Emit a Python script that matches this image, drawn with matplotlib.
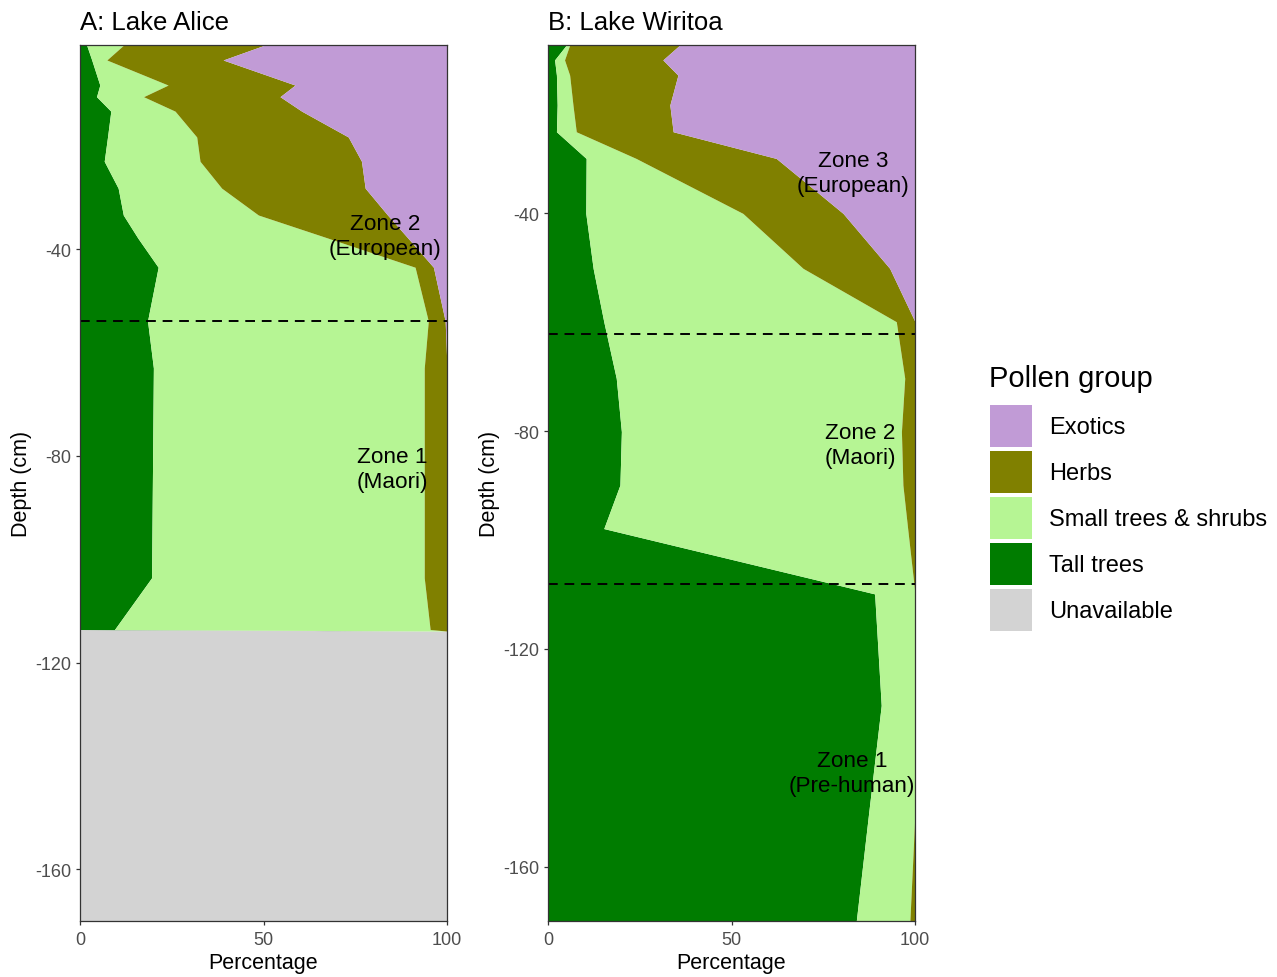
import matplotlib
matplotlib.use("Agg")
import matplotlib.pyplot as plt
from matplotlib.patches import Patch
from matplotlib.ticker import FuncFormatter
import numpy as np

plt.rcParams['font.family'] = ['Liberation Sans', 'DejaVu Sans']

# Stacking order from the left edge of each panel
stack_order = ["Unavailable", "Tall trees", "Small trees & shrubs", "Herbs", "Exotics"]
legend_order = ["Exotics", "Herbs", "Small trees & shrubs", "Tall trees", "Unavailable"]
group_colors = {
    "Exotics": "#C19BD6",
    "Herbs": "#808000",
    "Small trees & shrubs": "#B6F594",
    "Tall trees": "#007C00",
    "Unavailable": "#D3D3D3",
}

# Lake Alice core (depth in cm, percentage of pollen sum)
alice_depth = [-0.5, -3.4, -8.25, -10.5, -13.3, -18.3, -23.0, -28.2, -33.4, -37.9,
               -43.5, -53.9, -63.0, -103.6, -113.6, -113.9, -170.0]
alice_tall = [1.8, 3.2, 5.4, 4.5, 8.4, 7.5, 6.6, 10.4, 11.8, 15.8,
              21.3, 18.4, 20.0, 19.5, 9.4, 0, 0]
alice_small = [10.1, 4.1, 18.6, 12.8, 17.5, 24.3, 26.1, 28.2, 36.8, 51.9,
               70.0, 76.5, 73.8, 74.3, 86.0, 0, 0]
alice_herbs = [38.5, 31.7, 34.6, 37.2, 34.5, 41.3, 44.0, 39.1, 35.2, 21.7,
               5.0, 4.6, 6.2, 6.2, 4.6, 0, 0]
alice_exotics = [49.6, 61.0, 41.4, 45.5, 39.6, 26.9, 23.3, 22.3, 16.2, 10.6,
                 3.7, 0.5, 0, 0, 0, 0, 0]
alice_unavailable = [0, 0, 0, 0, 0, 0, 0, 0, 0, 0, 0, 0, 0, 0, 0, 100, 100]

# Lake Wiritoa core
wiritoa_depth = [-9.06, -11.8, -14.6, -20.1, -25.0, -29.9, -40.0, -50.1, -59.9,
                 -70.3, -80.1, -89.9, -97.9, -109.9, -130.4, -150.0, -170.0]
wiritoa_tall = [5.0, 1.8, 2.3, 2.5, 2.3, 10.4, 10.3, 12.3, 15.2,
                18.6, 20.0, 19.6, 15.2, 89.0, 90.8, 87.4, 84.0]
wiritoa_small = [0.9, 2.7, 3.6, 4.3, 5.4, 13.6, 42.8, 57.2, 79.7,
                 78.6, 76.3, 77.1, 82.8, 11.0, 9.2, 12.6, 14.6]
wiritoa_herbs = [30.0, 26.8, 29.5, 26.4, 26.4, 38.2, 27.3, 23.6, 5.1,
                 2.8, 3.7, 3.3, 2.0, 0, 0, 0, 1.4]
wiritoa_exotics = [64.1, 68.7, 64.6, 66.8, 65.9, 37.8, 19.6, 6.9, 0,
                   0, 0, 0, 0, 0, 0, 0, 0]
wiritoa_unavailable = [0] * 17

alice_zone_breaks = [-54.0]
wiritoa_zone_breaks = [-62.1, -108.1]

alice_zone_labels = [(83.1, -37.5, "Zone 2\n(European)"), (85.0, -82.5, "Zone 1\n(Maori)")]
wiritoa_zone_labels = [(83.1, -32.5, "Zone 3\n(European)"), (85.0, -82.6, "Zone 2\n(Maori)"),
                       (82.8, -142.8, "Zone 1\n(Pre-human)")]

panels = [
    dict(title="A: Lake Alice", depth=alice_depth,
         values={"Unavailable": alice_unavailable, "Tall trees": alice_tall,
                 "Small trees & shrubs": alice_small, "Herbs": alice_herbs,
                 "Exotics": alice_exotics},
         breaks=alice_zone_breaks, labels=alice_zone_labels, left=80),
    dict(title="B: Lake Wiritoa", depth=wiritoa_depth,
         values={"Unavailable": wiritoa_unavailable, "Tall trees": wiritoa_tall,
                 "Small trees & shrubs": wiritoa_small, "Herbs": wiritoa_herbs,
                 "Exotics": wiritoa_exotics},
         breaks=wiritoa_zone_breaks, labels=wiritoa_zone_labels, left=548),
]

W, H = 1277, 978
fig = plt.figure(figsize=(W / 100, H / 100), dpi=100)

ax_w, top_px, bot_px = 367, 46, 922
edge = "#333333"
hyphen_fmt = FuncFormatter(lambda v, pos: f"{v:g}".replace("\u2212", "-"))

for p in panels:
    ax = fig.add_axes([p["left"] / W, (H - bot_px) / H, ax_w / W, (bot_px - top_px) / H])
    depth = np.array(p["depth"], dtype=float)
    base = np.zeros_like(depth)
    for g in stack_order:
        vals = np.array(p["values"][g], dtype=float)
        ax.fill_betweenx(depth, base, base + vals, color=group_colors[g],
                         linewidth=0, zorder=1)
        base = base + vals
    for b in p["breaks"]:
        ax.axhline(b, color="black", lw=1.4, ls=(0, (5, 3.5)), zorder=3)
    for x, y, t in p["labels"]:
        ax.text(x, y, t, ha="center", va="center", fontsize=16.2, color="black",
                linespacing=1.25, zorder=4)
    ax.set_xlim(0, 100)
    ax.set_ylim(-170, depth.max())
    ax.set_xticks([0, 50, 100])
    ax.set_yticks([-40, -80, -120, -160])
    ax.yaxis.set_major_formatter(hyphen_fmt)
    ax.tick_params(direction="out", length=3.2, width=0.9, color=edge,
                   labelsize=13, labelcolor="#4D4D4D", pad=3)
    ax.tick_params(axis="x", pad=4.2)
    for s in ax.spines.values():
        s.set_color(edge)
        s.set_linewidth(0.9)
        s.set_zorder(5)
    ax.set_xlabel("Percentage", fontsize=15.5, color="black", labelpad=2.5)
    ax.set_ylabel("Depth (cm)", fontsize=15.5, color="black", labelpad=2)
    ax.text(0, 1 + 23 / (bot_px - top_px), p["title"], transform=ax.transAxes,
            ha="left", va="center", fontsize=18.5, color="black")

# Legend
fs = 17
fs_px = fs * 100 / 72
key_px = 42
hh = (key_px / fs_px - 0.245) / 0.65
handles = [Patch(facecolor=group_colors[g], edgecolor="none") for g in legend_order]
fig.text(989 / W, 1 - 379 / H, "Pollen group", fontsize=21, ha="left", va="center")
fig.legend(handles, legend_order, loc="upper left",
           bbox_to_anchor=(990 / W, 1 - 406 / H), bbox_transform=fig.transFigure,
           frameon=False, fontsize=fs, borderpad=0, borderaxespad=0,
           handlelength=key_px / fs_px, handleheight=hh,
           labelspacing=4 / fs_px, handletextpad=17 / fs_px)

fig.savefig("out.png", dpi=100, facecolor="white")
